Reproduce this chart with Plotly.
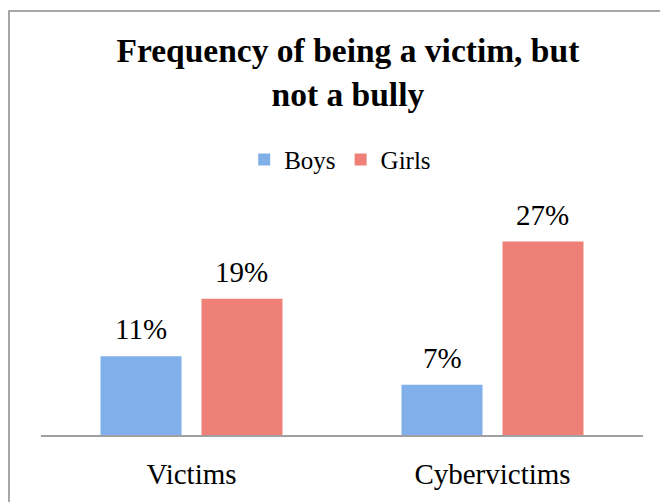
import plotly.graph_objects as go

categories = ["Victims", "Cybervictims"]
boys = [11, 7]
girls = [19, 27]
series_names = ["Boys", "Girls"]
colors = ["#80afe9", "#ee8078"]

FONT = "Liberation Serif"
W, H = 660, 494
ML, MR, MT, MB = 33, 25, 212, 65
BARGAP, GROUPGAP = 0.329, 0.198

fig = go.Figure()
for name, vals, col in zip(series_names, [boys, girls], colors):
    fig.add_trace(go.Bar(
        name=name, x=categories, y=vals,
        marker=dict(color=col, line=dict(width=0)),
    ))

# data labels placed above each bar, using the axis scale
plot_w = W - ML - MR
cat_w = plot_w / len(categories)
slot = cat_w * (1 - BARGAP) / 2
annotations = []
for i, vals in enumerate([boys, girls]):
    shift = (i - 0.5) * slot
    for c, v in zip(categories, vals):
        annotations.append(dict(
            x=c, y=v, xref="x", yref="y", text=f"{v}%",
            showarrow=False, xanchor="center", yanchor="bottom",
            xshift=shift, yshift=9,
            font=dict(family=FONT, size=29, color="#000000"),
        ))

fig.update_layout(
    width=W, height=H,
    margin=dict(l=ML, r=MR, t=MT, b=MB),
    paper_bgcolor="white", plot_bgcolor="white",
    barmode="group", bargap=BARGAP, bargroupgap=GROUPGAP,
    title=dict(
        text="<b>Frequency of being a victim, but<br>not a bully</b>",
        x=0.515, xanchor="center", y=0.89, yanchor="middle",
        font=dict(family=FONT, size=33.5, color="#000000"),
    ),
    legend=dict(
        orientation="h", x=0.497, xanchor="center", y=1.28, yanchor="middle",
        font=dict(family=FONT, size=25, color="#000000"),
        itemwidth=30, traceorder="normal",
    ),
    showlegend=True,
    annotations=annotations,
    xaxis=dict(
        showline=True, linecolor="#a0a0a0", linewidth=1.5,
        showgrid=False, ticks="", ticklabelstandoff=12,
        tickfont=dict(family=FONT, size=29, color="#000000"),
    ),
    yaxis=dict(range=[0, 30], visible=False, showgrid=False, zeroline=False),
    shapes=[dict(
        type="rect", xref="paper", yref="paper",
        x0=-0.0532, x1=1.1, y0=-0.4, y1=1.972,
        line=dict(color="#8a8a8a", width=1.5), fillcolor="rgba(0,0,0,0)",
        layer="below",
    )],
)

fig.write_html("out.html")
